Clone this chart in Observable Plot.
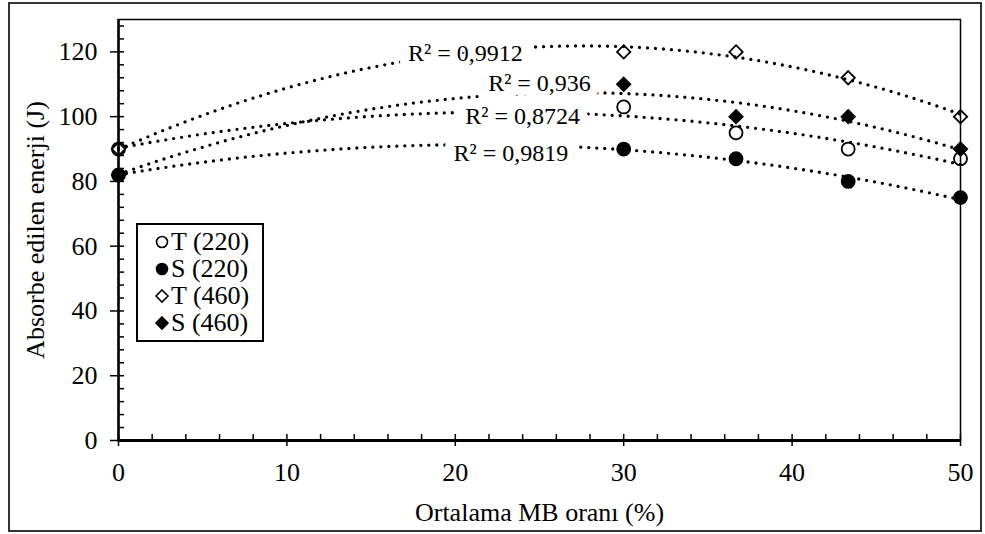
<!DOCTYPE html>
<html>
<head>
<meta charset="utf-8">
<script src="https://cdn.jsdelivr.net/npm/d3@7"></script>
<script src="https://cdn.jsdelivr.net/npm/@observablehq/plot@0.6"></script>
<style>
  html, body { margin: 0; padding: 0; background: #fff; }
  #wrap { position: relative; width: 985px; height: 534px; font-family: "Liberation Serif", "Times New Roman", serif; }
  #outer { position: absolute; left: 8px; top: 2px; width: 970px; height: 526px; border: 2px solid #333; pointer-events: none; }
  #legend { position: absolute; left: 136px; top: 223px; width: 124px; height: 115px; border: 2px solid #000; background: #fff; }
  .item { position: absolute; left: 0; height: 28px; font-size: 26px; line-height: 28px; color: #000; white-space: nowrap; }
  .item svg { position: absolute; left: 16px; top: 6px; }
  .item span { position: absolute; left: 33px; top: 0; }
</style>
</head>
<body>
<div id="wrap"><div id="outer"></div></div>
<script>
// ---- data ----
const mbRatio = [0, 30, 36.67, 43.33, 50];
const seriesNames = ["T (220)", "S (220)", "T (460)", "S (460)"];
const t220 = [90, 103, 95, 90, 87];
const s220 = [82, 90, 87, 80, 75];
const t460 = [90, 120, 120, 112, 100];
const s460 = [82, 110, 100, 100, 90];
const r2Text = ["R² = 0,8724", "R² = 0,9819", "R² = 0,9912", "R² = 0,936"];
const r2LabelX = [24.0, 23.3, 20.6, 25.0];
const r2LabelY = [100, 88.6, 119.7, 110.2];
const yTicks = [0, 20, 40, 60, 80, 100, 120];
const xTicks = [0, 10, 20, 30, 40, 50];

const seriesValues = [t220, s220, t460, s460];
const symbols = ["circle", "circle", "diamond2", "diamond2"];
const fills = ["none", "black", "none", "black"];

// quadratic least squares fit (Excel polynomial trendline, order 2)
function quadFit(x, y) {
  let n = x.length, sx = 0, sx2 = 0, sx3 = 0, sx4 = 0, sy = 0, sxy = 0, sx2y = 0;
  for (let i = 0; i < n; i++) {
    const a = x[i], b = y[i];
    sx += a; sx2 += a*a; sx3 += a*a*a; sx4 += a*a*a*a;
    sy += b; sxy += a*b; sx2y += a*a*b;
  }
  const M = [[n, sx, sx2], [sx, sx2, sx3], [sx2, sx3, sx4]];
  const v = [sy, sxy, sx2y];
  const det = m => m[0][0]*(m[1][1]*m[2][2]-m[1][2]*m[2][1]) - m[0][1]*(m[1][0]*m[2][2]-m[1][2]*m[2][0]) + m[0][2]*(m[1][0]*m[2][1]-m[1][1]*m[2][0]);
  const D = det(M);
  const c = [0,1,2].map(k => det(M.map((row, i) => row.map((val, j) => j === k ? v[i] : val))) / D);
  return t => c[0] + c[1]*t + c[2]*t*t;
}

const points = [];
seriesValues.forEach((vals, s) => vals.forEach((v, i) => points.push({series: seriesNames[s], x: mbRatio[i], y: v})));

const curves = [];
const grid = d3.range(0, 50.0001, 0.25);
seriesValues.forEach((vals, s) => {
  const f = quadFit(mbRatio, vals);
  grid.forEach(t => curves.push({series: seriesNames[s], x: t, y: f(t)}));
});

const labels = r2Text.map((t, i) => ({text: t, x: r2LabelX[i], y: r2LabelY[i]}));

const chart = Plot.plot({
  width: 985,
  height: 534,
  marginLeft: 118,
  marginRight: 25,
  marginTop: 19,
  marginBottom: 94,
  style: {fontFamily: "Liberation Serif", fontSize: "26px", color: "black", background: "transparent"},
  x: {domain: [0, 50]},
  y: {domain: [0, 130]},
  marks: [
    Plot.frame({stroke: "black", strokeWidth: 1.5}),
    Plot.line(curves, {x: "x", y: "y", z: "series", stroke: "black", strokeWidth: 3.3, strokeDasharray: "0 8", strokeLinecap: "round"}),
    Plot.text(labels, {x: "x", y: "y", text: "text", fontSize: 24, fill: "black", stroke: "white", strokeWidth: 18, paintOrder: "stroke"}),
    ...seriesNames.map((name, s) => Plot.dot(points.filter(d => d.series === name), {
      x: "x", y: "y", symbol: symbols[s], fill: fills[s], stroke: "black",
      strokeWidth: 1.8, r: symbols[s] === "circle" ? 6.5 : 6
    })),
    Plot.axisY({ticks: yTicks, tickSize: 8, tickPadding: 13, tickFormat: d => String(d), label: "Absorbe edilen enerji (J)", labelAnchor: "center", labelArrow: "none", labelOffset: 93, strokeWidth: 1.5}),
    Plot.axisY({ticks: d3.range(0, 130, 4), tickSize: -6, text: null, label: null, strokeWidth: 1.5}),
    Plot.axisX({ticks: xTicks, tickSize: 6, tickPadding: 16, tickFormat: d => String(d), label: "Ortalama MB oranı (%)", labelAnchor: "center", labelArrow: "none", labelOffset: 80, strokeWidth: 1.5}),
    Plot.axisX({ticks: d3.range(0, 51, 2), tickSize: -6, text: null, label: null, strokeWidth: 1.5}),
    Plot.ruleX([0], {stroke: "black", strokeWidth: 2.5}),
    Plot.ruleY([0], {stroke: "black", strokeWidth: 3})
  ]
});
chart.style.position = "absolute";
chart.style.left = "0px";
chart.style.top = "0px";
const wrap = document.getElementById("wrap");
wrap.insertBefore(chart, wrap.firstChild);

// legend
const legend = document.createElement("div");
legend.id = "legend";
const legendTops = [3, 30, 57, 84];
seriesNames.forEach((name, s) => {
  const item = document.createElement("div");
  item.className = "item";
  item.style.top = legendTops[s] + "px";
  const sym = symbols[s] === "circle"
    ? `<circle cx="8" cy="8" r="5.5" fill="${fills[s] === "none" ? "white" : "black"}" stroke="black" stroke-width="1.6"/>`
    : `<path d="M8,2 L14,8 L8,14 L2,8 Z" fill="${fills[s] === "none" ? "white" : "black"}" stroke="black" stroke-width="1.6"/>`;
  item.innerHTML = `<svg width="16" height="16">${sym}</svg><span>${name}</span>`;
  legend.appendChild(item);
});
wrap.appendChild(legend);
</script>
</body>
</html>
